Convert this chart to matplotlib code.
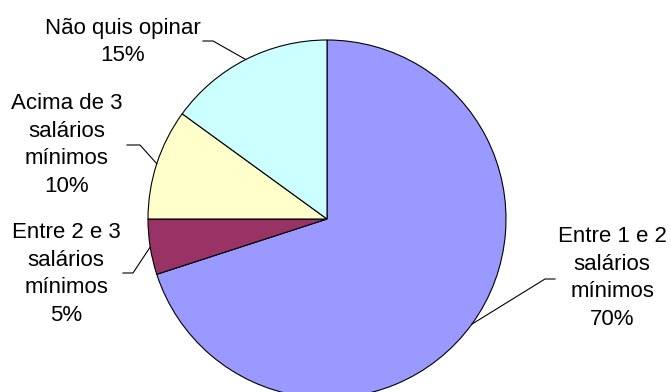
import numpy as np
import matplotlib.pyplot as plt

plt.rcParams['font.family'] = ['Liberation Sans', 'DejaVu Sans']

# dados
categorias = ['Entre 1 e 2\nsalários\nmínimos', 'Entre 2 e 3\nsalários\nmínimos',
              'Acima de 3\nsalários\nmínimos', 'Não quis opinar']
valores = [70, 5, 10, 15]
cores = ['#9999FF', '#993366', '#FFFFCC', '#CCFFFF']

# posição dos rótulos (pixels) e do cotovelo da linha de chamada
pos_texto = [(612, 278), (66, 274), (67, 145), (123, 42)]
cotovelo = [(545, 279), (133, 273), (140, 145), (213, 41)]
ponta = [(555, 279), (123, 273), (127, 145), (203, 41)]

W, H = 671, 392
fig = plt.figure(figsize=(W / 100, H / 100), dpi=100)
ax = fig.add_axes([0, 0, 1, 1])

cx, cy, r = 327, H - 219, 179
wedges, _ = ax.pie(valores, colors=cores, startangle=90, counterclock=False,
                   center=(cx, cy), radius=r,
                   wedgeprops=dict(edgecolor='black', linewidth=0.8))

for w, cat, v, pt, kn, pn in zip(wedges, categorias, valores, pos_texto, cotovelo, ponta):
    ang = np.deg2rad((w.theta1 + w.theta2) / 2)
    ex, ey = cx + r * np.cos(ang), cy + r * np.sin(ang)
    ax.plot([ex, kn[0], pn[0]], [ey, H - kn[1], H - pn[1]], color='black', lw=0.8)
    ax.text(pt[0], H - pt[1], f'{cat}\n{v}%', ha='center', va='center',
            fontsize=16, linespacing=1.4)

ax.set_xlim(0, W)
ax.set_ylim(0, H)
ax.set_aspect('equal')
ax.axis('off')

fig.savefig('out.png', dpi=100)
